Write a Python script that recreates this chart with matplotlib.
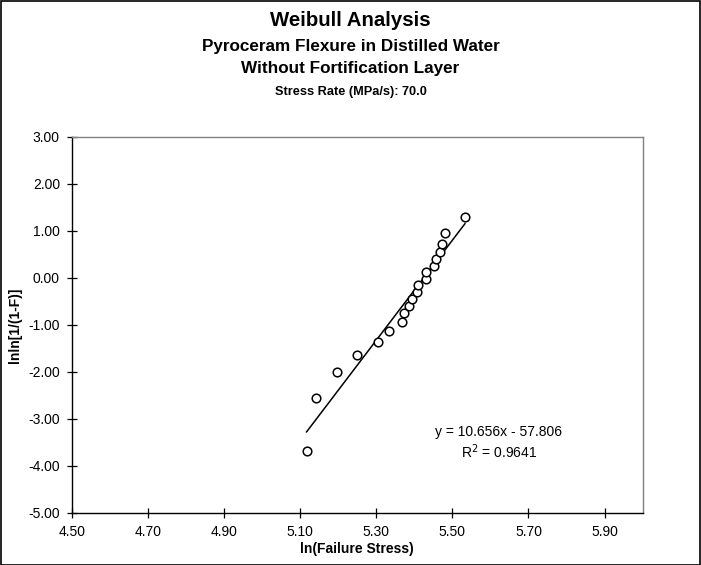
import matplotlib
matplotlib.use("Agg")
import matplotlib.pyplot as plt
from matplotlib.patches import Rectangle
import numpy as np

plt.rcParams['font.family'] = ['Liberation Sans', 'DejaVu Sans']

# ln(failure stress) and Weibull plotting position lnln[1/(1-F)]
ln_stress = [5.117, 5.141, 5.198, 5.250, 5.304, 5.333, 5.367, 5.374, 5.385, 5.394,
             5.406, 5.410, 5.430, 5.431, 5.451, 5.458, 5.467, 5.473, 5.481, 5.533]
lnln_f = [-3.676, -2.552, -2.013, -1.648, -1.367, -1.134, -0.934, -0.755, -0.592, -0.440,
          -0.295, -0.156, -0.019, 0.117, 0.255, 0.400, 0.556, 0.732, 0.952, 1.305]

# Linear trendline
slope = 10.656
intercept = -57.806
r_squared = 0.9641

x_ticks = [4.50, 4.70, 4.90, 5.10, 5.30, 5.50, 5.70, 5.90]
y_ticks = [3.00, 2.00, 1.00, 0.00, -1.00, -2.00, -3.00, -4.00, -5.00]

W, H = 701, 565
fig = plt.figure(figsize=(W / 100, H / 100), dpi=100)
fig.patch.set_facecolor('white')

ax = fig.add_axes([71.7 / W, 1 - 512.7 / H, (642.7 - 71.7) / W, (512.7 - 137) / H])
ax.set_xlim(4.5, 6.0)
ax.set_ylim(-5.0, 3.0)

ax.plot(ln_stress, lnln_f, linestyle='none', marker='o', markersize=6.2,
        markerfacecolor='white', markeredgecolor='black', markeredgewidth=1.1, zorder=3)

xf = np.array([min(ln_stress), max(ln_stress)])
ax.plot(xf, slope * xf + intercept, color='black', linewidth=1.1, zorder=2)

ax.text(5.622, -3.28, f"y = {slope:.3f}x - {abs(intercept):.3f}", ha='center', va='center',
        fontsize=10)
ax.text(5.622, -3.70, f"R$^2$ = {r_squared:.4f}", ha='center', va='center', fontsize=10)

ax.set_xticks(x_ticks)
ax.set_xticklabels([f"{v:.2f}" for v in x_ticks])
ax.set_yticks(y_ticks)
ax.set_yticklabels([f"{v:.2f}" for v in y_ticks])
ax.tick_params(axis='both', direction='inout', length=7, width=0.9, labelsize=10,
               color='black')
ax.tick_params(axis='x', pad=5)
ax.tick_params(axis='y', pad=5)

for side in ['left', 'bottom']:
    ax.spines[side].set_color('black')
    ax.spines[side].set_linewidth(1.0)
for side in ['top', 'right']:
    ax.spines[side].set_color('#808080')
    ax.spines[side].set_linewidth(1.0)

ax.set_xlabel("ln(Failure Stress)", fontsize=10, fontweight='bold')
ax.xaxis.set_label_coords(0.5, -(549 - 512.7) / (512.7 - 137))
ax.set_ylabel("lnln[1/(1-F)]", fontsize=10, fontweight='bold')
ax.yaxis.set_label_coords(-(71.7 - 15) / (642.7 - 71.7), 0.5)
ax.xaxis.label.set_va('center')
ax.yaxis.label.set_va('center')

fig.text(0.5, 1 - 21 / H, "Weibull Analysis", ha='center', va='center',
         fontsize=14.7, fontweight='bold')
fig.text(0.5, 1 - 47 / H, "Pyroceram Flexure in Distilled Water", ha='center', va='center',
         fontsize=12.3, fontweight='bold')
fig.text(0.5, 1 - 69 / H, "Without Fortification Layer", ha='center', va='center',
         fontsize=12.3, fontweight='bold')
fig.text(0.5, 1 - 92 / H, "Stress Rate (MPa/s): 70.0", ha='center', va='center',
         fontsize=9.2, fontweight='bold')

fig.patches.append(Rectangle((0.5 / W, 0.5 / H), 1 - 1.5 / W, 1 - 1.5 / H,
                             transform=fig.transFigure, fill=False,
                             edgecolor='black', linewidth=1.2))

fig.savefig("out.png", dpi=100, facecolor='white')
